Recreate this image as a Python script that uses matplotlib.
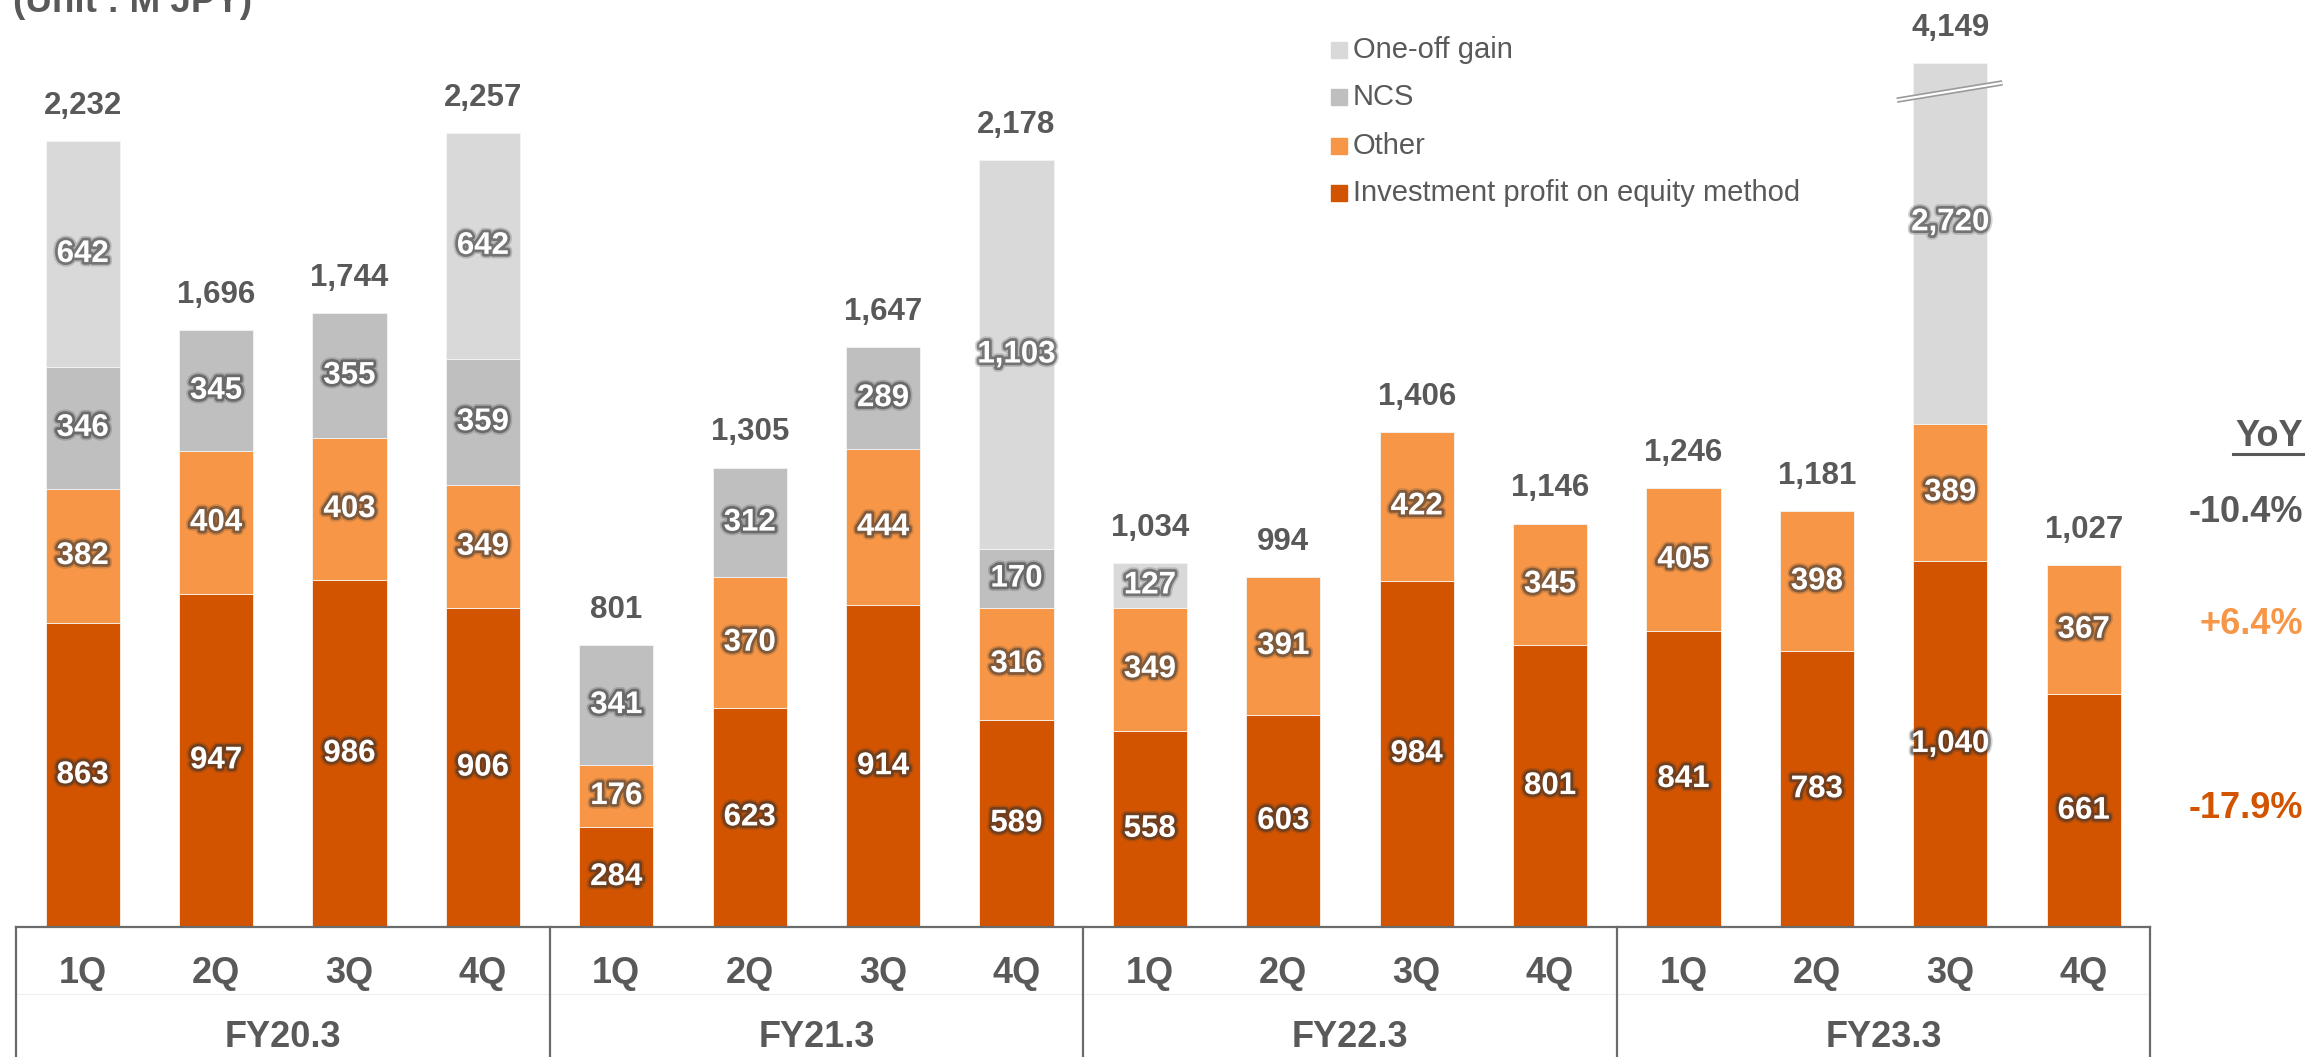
import matplotlib
matplotlib.use("Agg")
import matplotlib.pyplot as plt
import matplotlib.patheffects as pe
from matplotlib.patches import Rectangle

# quarterly breakdown, M JPY
years = ["FY20.3", "FY21.3", "FY22.3", "FY23.3"]
quarters = ["1Q", "2Q", "3Q", "4Q"]

equity = [863, 947, 986, 906, 284, 623, 914, 589, 558, 603, 984, 801, 841, 783, 1040, 661]
other = [382, 404, 403, 349, 176, 370, 444, 316, 349, 391, 422, 345, 405, 398, 389, 367]
ncs = [346, 345, 355, 359, 341, 312, 289, 170, 0, 0, 0, 0, 0, 0, 0, 0]
one_off = [642, 0, 0, 642, 0, 0, 0, 1103, 127, 0, 0, 0, 0, 0, 2720, 0]
totals = [2232, 1696, 1744, 2257, 801, 1305, 1647, 2178, 1034, 994, 1406, 1146, 1246, 1181, 4149, 1027]

series_names = ["Investment profit on equity method", "Other", "NCS", "One-off gain"]
series_colors = ["#D35400", "#F79646", "#BFBFBF", "#D9D9D9"]

yoy_labels = ["-10.4%", "+6.4%", "-17.9%"]
yoy_colors = ["#595959", "#F79646", "#D35400"]

TXT = "#595959"
FONT = "Liberation Sans"
plt.rcParams["font.family"] = [FONT, "DejaVu Sans"]

# bars taller than this are drawn cut with a break mark
BREAK_TOP = 2455

W, H = 2307, 1057
fig = plt.figure(figsize=(W / 100, H / 100), dpi=100)
ax = fig.add_axes([0, 0, 1, 1])
ax.set_xlim(-0.62, 16.674)
ax.set_ylim(-369.3, 2633.5)
ax.axis("off")

glow = [pe.Stroke(linewidth=6.5, foreground="#333333", alpha=0.2),
        pe.Stroke(linewidth=4, foreground="#333333", alpha=0.5),
        pe.Normal()]

n = len(totals)
xs = list(range(n))
bottom = [0] * n
shown_top = [0] * n
for vals, color in zip([equity, other, ncs, one_off], series_colors):
    for i in xs:
        v = vals[i]
        if v == 0:
            continue
        cut = bottom[i] + v > BREAK_TOP
        h = BREAK_TOP - bottom[i] if cut else v
        ax.bar(i, h, bottom=bottom[i], width=0.555, color=color,
               edgecolor="#f4f4f4", linewidth=0.6, zorder=2)
        ly = bottom[i] + h / 2 + (60 if cut else 0)
        ax.text(i, ly, f"{v:,}", ha="center", va="center",
                fontsize=22.5, fontweight="bold", color="white",
                path_effects=glow, zorder=4)
        bottom[i] += h
        shown_top[i] = bottom[i]

for i, t in enumerate(totals):
    ax.text(i, shown_top[i] + 100, f"{t:,}", ha="center", va="center",
            fontsize=22.5, fontweight="bold", color=TXT, zorder=4)

# break mark on the cut bar
for i in xs:
    if bottom[i] < equity[i] + other[i] + ncs[i] + one_off[i]:
        bx = [i - 0.4, i + 0.39]
        by = [2349, 2398]
        ax.plot(bx, by, color="#9a9a9a", lw=4.0, solid_capstyle="butt", zorder=5)
        ax.plot(bx, by, color="white", lw=1.6, solid_capstyle="butt", zorder=6)

# category table under the bars
line_c = "#6b6b6b"
ax.plot([-0.5, 15.5], [0, 0], color=line_c, lw=1.6, zorder=3)
for xv in [-0.5, 3.5, 7.5, 11.5, 15.5]:
    ax.plot([xv, xv], [0, -400], color=line_c, lw=1.6, zorder=3, clip_on=False)
ax.plot([-0.5, 15.5], [-190, -190], color="#eeeeee", lw=0.8, zorder=1)

for i in xs:
    ax.text(i, -131, quarters[i % 4], ha="center", va="center",
            fontsize=26, fontweight="bold", color=TXT)
for k, y in enumerate(years):
    ax.text(4 * k + 1.5, -315, y, ha="center", va="center",
            fontsize=26, fontweight="bold", color=TXT)

# legend (top entry is the top stack)
leg_y = [50, 97, 146, 193]
for k, name in enumerate(series_names[::-1]):
    yc = 1 - leg_y[k] / H
    fig.patches.append(Rectangle((1331 / W, yc - 8 / H), 16 / W, 16 / H,
                                 transform=fig.transFigure,
                                 color=series_colors[::-1][k]))
    fig.text(1353 / W, yc, name, ha="left", va="center", fontsize=21, color=TXT)

# YoY column
fig.text(2303 / W, 1 - 436 / H, "YoY", ha="right", va="center",
         fontsize=26, fontweight="bold", color=TXT)
fig.add_artist(plt.Line2D([2233 / W, 2303 / W], [1 - 454 / H] * 2,
                          color=TXT, lw=2.2, transform=fig.transFigure))
for lab, c, yp in zip(yoy_labels, yoy_colors, [512, 624, 808]):
    fig.text(2303 / W, 1 - yp / H, lab, ha="right", va="center",
             fontsize=26, fontweight="bold", color=c)

fig.text(13 / W, 1 - 12 / H, "(Unit : M JPY)", ha="left", va="baseline",
         fontsize=26.5, fontweight="bold", color=TXT)

fig.savefig("out.png", dpi=100, facecolor="white")
